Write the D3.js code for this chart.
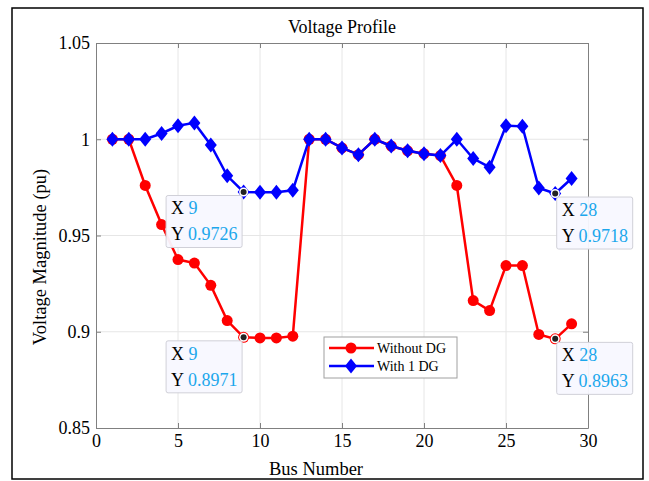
<!DOCTYPE html>
<html>
<head>
<meta charset="utf-8">
<script src="https://cdn.jsdelivr.net/npm/d3@7"></script>
<style>
  body { margin: 0; background: #fff; }
  svg text { font-family: "Liberation Serif", "Times New Roman", serif; }
</style>
</head>
<body>
<svg id="chart" width="649" height="481"></svg>
<script>
const buses = d3.range(1, 30)

const withoutDG = [1.0, 1.0, 0.976, 0.9557, 0.9375, 0.9357, 0.9241, 0.9058, 0.8971, 0.8968,
    0.8968, 0.8977, 1.0, 1.0, 0.9955, 0.992, 1.0, 0.9965, 0.994, 0.9925,
    0.9915, 0.976, 0.9162, 0.911, 0.9344, 0.9344, 0.8986, 0.8963, 0.9041]

const withDG = [1.0, 1.0, 1.0, 1.003, 1.007, 1.0085, 0.997, 0.981, 0.9726, 0.9725,
    0.9725, 0.9735, 1.0, 1.0, 0.9955, 0.992, 1.0, 0.9965, 0.994, 0.9925,
    0.9915, 1.0, 0.990, 0.9855, 1.007, 1.0067, 0.9747, 0.9718, 0.9796]

const xTicks = [0, 5, 10, 15, 20, 25, 30]
const yTicks = [0.85, 0.9, 0.95, 1, 1.05]
const tipBuses = [9, 28]

const svg = d3.select('#chart')

// figure frame
svg.append('rect')
    .attr('x', 12).attr('y', 8)
    .attr('width', 631).attr('height', 471)
    .attr('fill', '#fff')
    .attr('stroke', '#000')
    .attr('stroke-width', 1.5)

const x = d3.scaleLinear().domain([0, 30]).range([96, 588])
const y = d3.scaleLinear().domain([0.85, 1.05]).range([428, 43])

// grid
svg.append('g')
    .selectAll('line')
    .data(xTicks.slice(1, -1))
    .join('line')
    .attr('x1', d => x(d)).attr('x2', d => x(d))
    .attr('y1', y(0.85)).attr('y2', y(1.05))
    .attr('stroke', '#e6e6e6')
svg.append('g')
    .selectAll('line')
    .data(yTicks.slice(1, -1))
    .join('line')
    .attr('x1', x(0)).attr('x2', x(30))
    .attr('y1', d => y(d)).attr('y2', d => y(d))
    .attr('stroke', '#e6e6e6')

// axes (ticks pointing inward, box on all sides)
function styleAxis(g) {
    g.select('.domain').attr('stroke', '#808080').attr('stroke-width', 1)
    g.selectAll('.tick line').attr('stroke', '#808080')
    g.selectAll('.tick text')
        .attr('font-size', 18)
        .attr('fill', '#000')
}

svg.append('g')
    .attr('transform', 'translate(0,' + y(0.85) + ')')
    .call(d3.axisBottom(x).tickValues(xTicks).tickFormat(d3.format('d'))
        .tickSizeInner(-5).tickSizeOuter(0).tickPadding(6))
    .call(styleAxis)

svg.append('g')
    .attr('transform', 'translate(0,' + y(1.05) + ')')
    .call(d3.axisTop(x).tickValues(xTicks).tickFormat('')
        .tickSizeInner(-5).tickSizeOuter(0))
    .call(styleAxis)

svg.append('g')
    .attr('transform', 'translate(' + x(0) + ',0)')
    .call(d3.axisLeft(y).tickValues(yTicks).tickFormat(d => d3.format('')(+d.toFixed(2)))
        .tickSizeInner(-5).tickSizeOuter(0).tickPadding(6))
    .call(styleAxis)

svg.append('g')
    .attr('transform', 'translate(' + x(30) + ',0)')
    .call(d3.axisRight(y).tickValues(yTicks).tickFormat('')
        .tickSizeInner(-5).tickSizeOuter(0))
    .call(styleAxis)

// titles
svg.append('text')
    .attr('x', (x(0) + x(30)) / 2).attr('y', 32.5)
    .attr('text-anchor', 'middle')
    .attr('font-size', 18)
    .text('Voltage Profile')

svg.append('text')
    .attr('x', 316).attr('y', 475)
    .attr('text-anchor', 'middle')
    .attr('font-size', 18.5)
    .text('Bus Number')

svg.append('text')
    .attr('transform', 'translate(46,257) rotate(-90)')
    .attr('text-anchor', 'middle')
    .attr('font-size', 18.5)
    .text('Voltage Magnitude (pu)')

// series
const line = d3.line().x((d, i) => x(buses[i])).y(d => y(d))
const diamond = 'M0,-7.5L6,0L0,7.5L-6,0Z'

const red = svg.append('g')
red.append('path')
    .datum(withoutDG)
    .attr('d', line)
    .attr('fill', 'none')
    .attr('stroke', '#ff0000')
    .attr('stroke-width', 2.5)
red.selectAll('circle')
    .data(withoutDG)
    .join('circle')
    .attr('cx', (d, i) => x(buses[i]))
    .attr('cy', d => y(d))
    .attr('r', 5.5)
    .attr('fill', '#ff0000')

const blue = svg.append('g')
blue.append('path')
    .datum(withDG)
    .attr('d', line)
    .attr('fill', 'none')
    .attr('stroke', '#0000ff')
    .attr('stroke-width', 2.5)
blue.selectAll('path.m')
    .data(withDG)
    .join('path')
    .attr('class', 'm')
    .attr('d', diamond)
    .attr('transform', (d, i) => 'translate(' + x(buses[i]) + ',' + y(d) + ')')
    .attr('fill', '#0000ff')

// legend
const lg = svg.append('g').attr('transform', 'translate(324,337)')
lg.append('rect')
    .attr('width', 133).attr('height', 41)
    .attr('fill', '#fff')
    .attr('stroke', '#a0a0a0')
const legendItems = [
    {label: 'Without DG', color: '#ff0000', shape: 'circle'},
    {label: 'With 1 DG', color: '#0000ff', shape: 'diamond'}
]
legendItems.forEach((it, i) => {
    const cy = 11 + i * 18
    lg.append('line')
        .attr('x1', 5).attr('x2', 50).attr('y1', cy).attr('y2', cy)
        .attr('stroke', it.color).attr('stroke-width', 2.5)
    if (it.shape === 'circle') {
        lg.append('circle').attr('cx', 27).attr('cy', cy).attr('r', 5.5).attr('fill', it.color)
    } else {
        lg.append('path').attr('d', diamond).attr('transform', 'translate(27,' + cy + ')').attr('fill', it.color)
    }
    lg.append('text')
        .attr('x', 53).attr('y', cy + 5)
        .attr('font-size', 14)
        .text(it.label)
})

// data tips
const tips = []
tipBuses.forEach(b => {
    tips.push({bus: b, value: withDG[b - 1]})
    tips.push({bus: b, value: withoutDG[b - 1]})
})

const tipG = svg.append('g')
tips.forEach(t => {
    const px = x(t.bus), py = y(t.value)
    const w = 76, h = 52
    const bx = t.bus < 15 ? px - 1.5 - w : px + 1.5
    const by = py + 3.5
    tipG.append('circle').attr('cx', px).attr('cy', py).attr('r', 4.5).attr('fill', '#fff')
    tipG.append('circle').attr('cx', px).attr('cy', py).attr('r', 3).attr('fill', '#222')
    tipG.append('rect')
        .attr('x', bx).attr('y', by)
        .attr('width', w).attr('height', h)
        .attr('rx', 2)
        .attr('fill', '#f8f8ff')
        .attr('fill-opacity', 0.95)
        .attr('stroke', '#d0d0d8')
    const rows = [['X', String(t.bus)], ['Y', t.value.toFixed(4)]]
    rows.forEach((r, i) => {
        const tx = tipG.append('text')
            .attr('x', bx + 5).attr('y', by + 19 + i * 26)
            .attr('font-size', 18)
        tx.append('tspan').attr('fill', '#000').text(r[0] + ' ')
        tx.append('tspan').attr('fill', '#1ca7ec').text(r[1])
    })
})
</script>
</body>
</html>
